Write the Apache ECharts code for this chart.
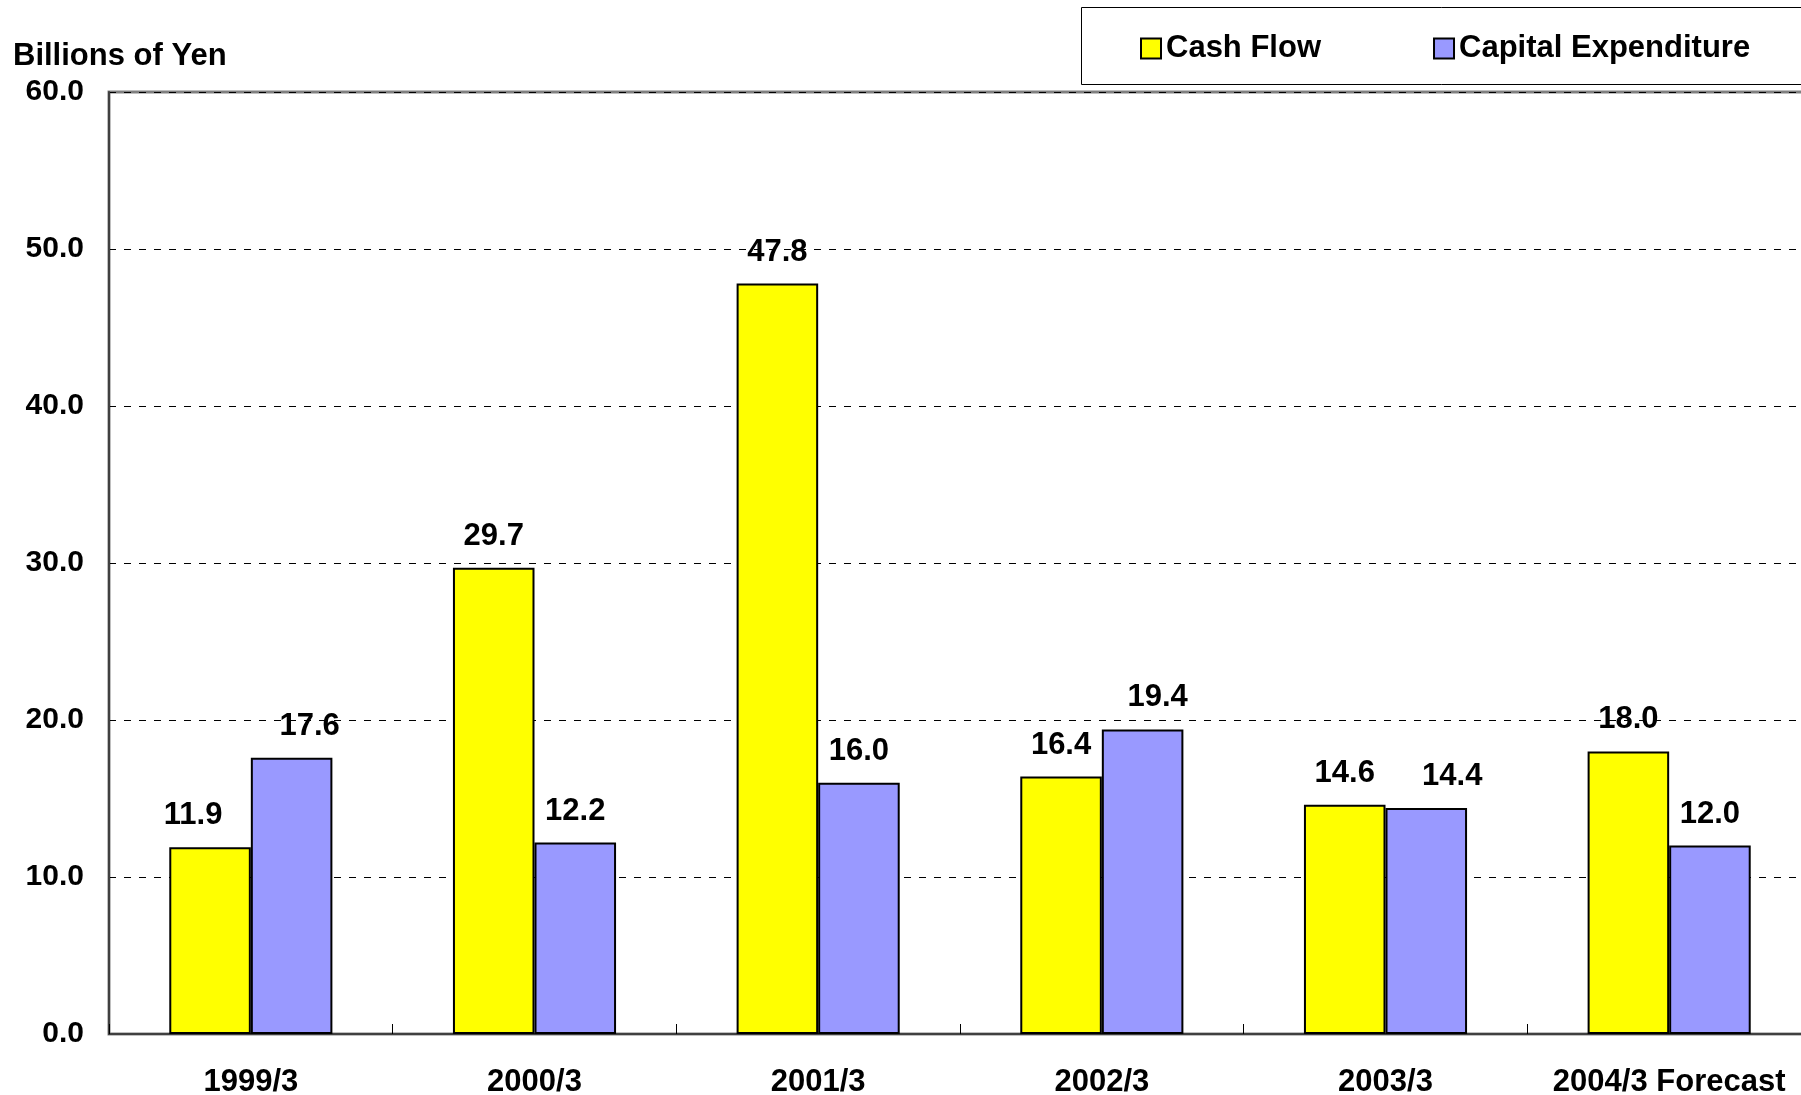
<!DOCTYPE html>
<html>
<head>
<meta charset="utf-8">
<script src="https://cdn.jsdelivr.net/npm/echarts@6/dist/echarts.min.js"></script>
<style>
html,body{margin:0;padding:0;background:#fff;overflow:hidden;}
#chart{width:1801px;height:1095px;}
</style>
</head>
<body>
<div id="chart"></div>
<script>
const categories = ['1999/3', '2000/3', '2001/3', '2002/3', '2003/3', '2004/3 Forecast'];
const cashFlow = [11.9, 29.7, 47.8, 16.4, 14.6, 18.0];
const capitalExpenditure = [17.6, 12.2, 16.0, 19.4, 14.4, 12.0];
const seriesNames = ['Cash Flow', 'Capital Expenditure'];
const yTicks = [0, 10, 20, 30, 40, 50, 60];
const unitLabel = 'Billions of Yen';

// label horizontal nudges (styling only)
const cfLabelShift = [-17, 0, 0, 0, 0, 0];
const ceLabelShift = [18, 0, 0, 15, 26, 0];

const FONT = "'Liberation Sans', Arial, sans-serif";
const chart = echarts.init(document.getElementById('chart'), null, {renderer: 'canvas'});

function build(values, shifts) {
  return values.map((v, i) => ({value: v, label: {offset: [shifts[i], 0]}}));
}

const baseLabel = {
  show: true, position: 'top', distance: 16,
  fontFamily: FONT, fontWeight: 'bold', fontSize: 31, color: '#000',
  formatter: p => p.value.toFixed(1)
};

chart.setOption({
  animation: false,
  backgroundColor: '#fff',
  title: {
    text: unitLabel, left: 13, top: 41, padding: 0,
    textStyle: {fontFamily: FONT, fontWeight: 'bold', fontSize: 31, color: '#000'}
  },
  graphic: [{
    type: 'rect', z: 0,
    shape: {x: 1081.5, y: 7.5, width: 760, height: 77},
    style: {fill: '#fff', stroke: '#000', lineWidth: 1}
  }],
  legend: {
    left: 1081, top: 7,
    padding: [26, 5, 20, 59],
    itemGap: 112, itemWidth: 20, itemHeight: 20,
    icon: 'rect',
    itemStyle: {borderColor: '#000', borderWidth: 2},
    textStyle: {fontFamily: FONT, fontWeight: 'bold', fontSize: 31, color: '#000'},
    data: seriesNames
  },
  grid: {
    left: 109, width: 1702, top: 92, bottom: 61,
    outerBoundsMode: 'none',
    show: true, borderColor: '#808080', borderWidth: 3, backgroundColor: 'transparent'
  },
  xAxis: {
    type: 'category', data: categories,
    axisLine: {lineStyle: {color: '#404040', width: 2}},
    axisTick: {show: true, inside: true, length: 10, lineStyle: {color: '#000', width: 1}},
    axisLabel: {margin: 33, fontFamily: FONT, fontWeight: 'bold', fontSize: 31, color: '#000', interval: 0}
  },
  yAxis: {
    type: 'value', min: yTicks[0], max: yTicks[yTicks.length - 1], interval: yTicks[1] - yTicks[0],
    axisLine: {show: true, lineStyle: {color: '#404040', width: 2}},
    axisTick: {show: false},
    axisLabel: {margin: 25, fontFamily: FONT, fontWeight: 'bold', fontSize: 30, color: '#000',
      formatter: v => v.toFixed(1)},
    splitLine: {show: true, lineStyle: {color: '#000', width: 1, type: [7, 8]}}
  },
  series: [
    {
      name: seriesNames[0], type: 'bar', data: build(cashFlow, cfLabelShift),
      barGap: '0%', barCategoryGap: '42.5%',
      itemStyle: {color: '#FFFF00', borderColor: '#000', borderWidth: 2},
      label: baseLabel
    },
    {
      name: seriesNames[1], type: 'bar', data: build(capitalExpenditure, ceLabelShift),
      barGap: '0%', barCategoryGap: '42.5%',
      itemStyle: {color: '#9999FF', borderColor: '#000', borderWidth: 2},
      label: baseLabel
    }
  ]
});
</script>
</body>
</html>
